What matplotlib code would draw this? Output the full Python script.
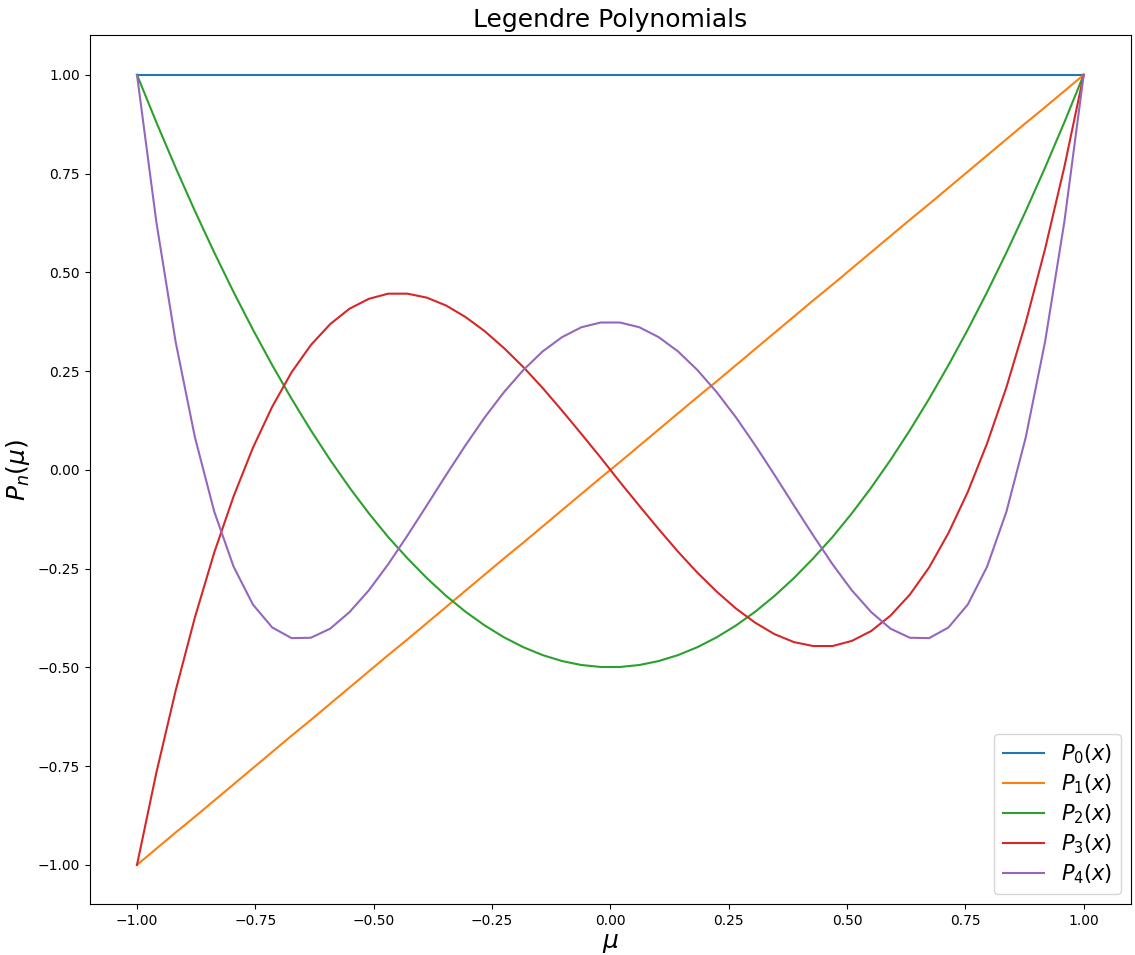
import numpy as np
import matplotlib
matplotlib.use("Agg")
import matplotlib.pyplot as plt

# sample grid on [-1, 1]
mu = np.linspace(-1, 1, 50)

p0 = [1.000, 1.000, 1.000, 1.000, 1.000, 1.000, 1.000, 1.000, 1.000, 1.000,
      1.000, 1.000, 1.000, 1.000, 1.000, 1.000, 1.000, 1.000, 1.000, 1.000,
      1.000, 1.000, 1.000, 1.000, 1.000, 1.000, 1.000, 1.000, 1.000, 1.000,
      1.000, 1.000, 1.000, 1.000, 1.000, 1.000, 1.000, 1.000, 1.000, 1.000,
      1.000, 1.000, 1.000, 1.000, 1.000, 1.000, 1.000, 1.000, 1.000, 1.000]

p1 = [-1.000, -0.959, -0.918, -0.878, -0.837, -0.796, -0.755, -0.714, -0.673, -0.633,
      -0.592, -0.551, -0.510, -0.469, -0.429, -0.388, -0.347, -0.306, -0.265, -0.224,
      -0.184, -0.143, -0.102, -0.061, -0.020, 0.020, 0.061, 0.102, 0.143, 0.184,
      0.224, 0.265, 0.306, 0.347, 0.388, 0.429, 0.469, 0.510, 0.551, 0.592,
      0.633, 0.673, 0.714, 0.755, 0.796, 0.837, 0.878, 0.918, 0.959, 1.000]

p2 = [1.000, 0.880, 0.765, 0.655, 0.550, 0.450, 0.355, 0.265, 0.180, 0.100,
      0.025, -0.045, -0.110, -0.170, -0.224, -0.274, -0.319, -0.359, -0.394, -0.424,
      -0.449, -0.469, -0.484, -0.494, -0.499, -0.499, -0.494, -0.484, -0.469, -0.449,
      -0.424, -0.394, -0.359, -0.319, -0.274, -0.224, -0.170, -0.110, -0.045, 0.025,
      0.100, 0.180, 0.265, 0.355, 0.450, 0.550, 0.655, 0.765, 0.880, 1.000]

p3 = [-1.000, -0.767, -0.559, -0.373, -0.209, -0.067, 0.056, 0.160, 0.247, 0.316,
      0.369, 0.408, 0.433, 0.446, 0.446, 0.436, 0.416, 0.387, 0.351, 0.308,
      0.260, 0.207, 0.150, 0.091, 0.031, -0.031, -0.091, -0.150, -0.207, -0.260,
      -0.308, -0.351, -0.387, -0.416, -0.436, -0.446, -0.446, -0.433, -0.408, -0.369,
      -0.316, -0.247, -0.160, -0.056, 0.067, 0.209, 0.373, 0.559, 0.767, 1.000]

p4 = [1.000, 0.628, 0.324, 0.082, -0.106, -0.245, -0.341, -0.399, -0.426, -0.425,
      -0.402, -0.360, -0.305, -0.239, -0.166, -0.090, -0.013, 0.062, 0.133, 0.197,
      0.253, 0.300, 0.336, 0.361, 0.373, 0.373, 0.361, 0.336, 0.300, 0.253,
      0.197, 0.133, 0.062, -0.013, -0.090, -0.166, -0.239, -0.305, -0.360, -0.402,
      -0.425, -0.426, -0.399, -0.341, -0.245, -0.106, 0.082, 0.324, 0.628, 1.000]

series = [p0, p1, p2, p3, p4]

fig = plt.figure(figsize=(11.35, 9.55), dpi=100)
ax = fig.add_axes([0.079, 0.053, 0.9175, 0.910])

for n, p in enumerate(series):
    ax.plot(mu, p, label=r"$P_{%d}(x)$" % n)

ax.set_title("Legendre Polynomials", fontsize=18)
ax.set_xlabel(r"$\mu$", fontsize=18, labelpad=2)
ax.set_ylabel(r"$P_n(\mu)$", fontsize=18)
ax.legend(loc="lower right", fontsize=15, labelspacing=0.3)

fig.savefig("out.png", dpi=100)
